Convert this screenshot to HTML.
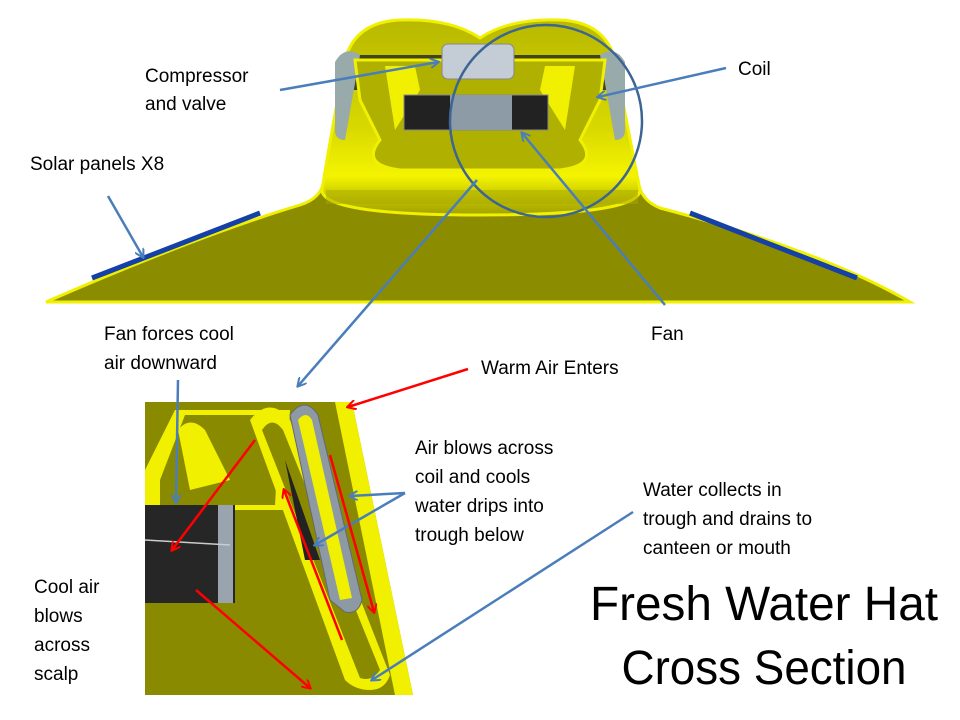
<!DOCTYPE html>
<html><head><style>
html,body{margin:0;padding:0;background:#fff;}
svg{display:block}
text{font-family:"Liberation Sans",sans-serif;fill:#000}
</style></head><body>
<svg width="960" height="720" viewBox="0 0 960 720" xmlns="http://www.w3.org/2000/svg">
<defs>
<linearGradient id="dome" x1="0" y1="0" x2="0" y2="1">
<stop offset="0" stop-color="#b8b800"/><stop offset="0.55" stop-color="#d8d800"/><stop offset="0.8" stop-color="#f4f400"/><stop offset="1" stop-color="#a0a000"/>
</linearGradient>
<marker id="ab" markerWidth="10" markerHeight="10" refX="8" refY="5" orient="auto" markerUnits="userSpaceOnUse"><path d="M0,0 L9,5 L0,10" fill="none" stroke="#4a7ebb" stroke-width="2"/></marker>
<marker id="ar" markerWidth="10" markerHeight="10" refX="8" refY="5" orient="auto" markerUnits="userSpaceOnUse"><path d="M0,0 L9,5 L0,10" fill="none" stroke="#ff0000" stroke-width="2"/></marker>
</defs>
<!-- brim -->
<path d="M46,302 Q200,235 300,205 Q322,198 324,180 L638,180 Q640,200 660,208 Q820,250 910,302 Z" fill="#8c8c00" stroke="#f0f000" stroke-width="3"/>
<!-- dome -->
<path d="M322,190 Q330,140 345,60 Q355,22 400,20 Q450,18 480,38 Q510,18 560,20 Q605,22 615,60 Q630,140 640,190 Q640,215 480,215 Q322,215 322,190 Z" fill="url(#dome)" stroke="#f0f000" stroke-width="3"/>
<rect x="326" y="190" width="312" height="14" fill="#a8a800" opacity="0.5"/>
<path d="M340,55 L620,55 L618,90 L342,90 Z" fill="#222" opacity="0.8"/>
<path d="M335,62 Q345,45 360,55 L345,140 Q335,140 335,130 Z" fill="#9aa" />
<path d="M625,62 Q615,45 600,55 L615,140 Q625,140 625,130 Z" fill="#9aa"/>
<path d="M355,60 L605,60 L600,100 L580,140 Q600,165 560,170 L400,170 Q360,165 380,140 L360,100 Z" fill="#b0b000" stroke="#f0f000" stroke-width="3"/>
<path d="M385,66 L415,66 L420,90 L395,130 Z" fill="#f0f000"/>
<path d="M575,66 L545,66 L540,90 L565,130 Z" fill="#f0f000"/>
<rect x="404" y="95" width="144" height="35" fill="#222" stroke="#888"/>
<rect x="450" y="95" width="62" height="35" fill="#8d9ba6"/>
<rect x="442" y="44" width="72" height="35" rx="6" fill="#c4ccd6" stroke="#888"/>
<path d="M92,278 L260,213" stroke="#1440a8" stroke-width="5"/>
<path d="M690,213 L857,278" stroke="#1440a8" stroke-width="5"/>
<circle cx="546" cy="121" r="96" fill="none" stroke="#3d6593" stroke-width="2.5"/>
<!-- inset -->
<g>
<path d="M145,402 L352,402 L413,695 L145,695 Z" fill="#8a8a00"/>
<path d="M335,402 L352,402 L413,695 L395,695 Z" fill="#f0f000"/>
<path d="M145,470 L175,410 L290,410 L285,510 L145,510 Z" fill="#f0f000"/>
<path d="M160,480 L185,415 L280,415 L275,505 L160,505 Z" fill="#8a8a00"/>
<path d="M178,430 Q190,415 205,430 L230,480 L190,490 Z" fill="#f0f000"/>
<rect x="145" y="505" width="90" height="98" fill="#262626"/>
<rect x="218" y="505" width="15" height="98" fill="#9aa4ae"/>
<path d="M145,540 L230,545" stroke="#ccc" stroke-width="1.5"/>
<path d="M250,420 Q270,395 290,420 L390,675 Q385,690 370,690 Q355,690 345,680 Z" fill="#f0f000"/>
<path d="M262,430 Q272,415 283,430 L380,670 Q372,682 360,678 Z" fill="#8a8a00"/>
<path d="M290,415 Q305,395 318,415 L362,600 Q358,615 345,612 L330,600 Z" fill="#8d9aa4" stroke="#667"/>
<path d="M298,420 Q306,410 312,420 L352,598 L340,600 Z" fill="#f0f000"/>
<path d="M285,460 L305,560 L320,560 Z" fill="#222"/>
</g>
<g stroke="#4a7ebb" stroke-width="2.5" fill="none">
<line x1="280" y1="90" x2="438" y2="62" marker-end="url(#ab)"/>
<line x1="726" y1="68" x2="598" y2="97" marker-end="url(#ab)"/>
<line x1="108" y1="196" x2="143" y2="257" marker-end="url(#ab)"/>
<line x1="665" y1="305" x2="522" y2="133" marker-end="url(#ab)"/>
<line x1="477" y1="180" x2="298" y2="386" marker-end="url(#ab)"/>
<line x1="178" y1="380" x2="176" y2="502" marker-end="url(#ab)"/>
<line x1="405" y1="493" x2="350" y2="496" marker-end="url(#ab)"/>
<line x1="405" y1="493" x2="315" y2="545" marker-end="url(#ab)"/>
<line x1="633" y1="512" x2="372" y2="680" marker-end="url(#ab)"/>
</g>
<g stroke="#ff0000" stroke-width="2.5" fill="none">
<line x1="468" y1="369" x2="348" y2="407" marker-end="url(#ar)"/>
<line x1="255" y1="440" x2="172" y2="550" marker-end="url(#ar)"/>
<line x1="196" y1="590" x2="310" y2="688" marker-end="url(#ar)"/>
<line x1="342" y1="640" x2="284" y2="490" marker-end="url(#ar)"/>
<line x1="330" y1="455" x2="374" y2="612" marker-end="url(#ar)"/>
</g>
<g font-size="19">
<text x="145" y="82">Compressor</text>
<text x="145" y="110">and valve</text>
<text x="738" y="75">Coil</text>
<text x="30" y="170">Solar panels X8</text>
<text x="651" y="340">Fan</text>
<text x="104" y="340">Fan forces cool</text>
<text x="104" y="369">air downward</text>
<text x="481" y="374">Warm Air Enters</text>
<text x="415" y="454">Air blows across</text>
<text x="415" y="483">coil and cools</text>
<text x="415" y="512">water drips into</text>
<text x="415" y="541">trough below</text>
<text x="643" y="496">Water collects in</text>
<text x="643" y="525">trough and drains to</text>
<text x="643" y="554">canteen or mouth</text>
<text x="34" y="593">Cool air</text>
<text x="34" y="622">blows</text>
<text x="34" y="651">across</text>
<text x="34" y="680">scalp</text>
</g>
<text x="764" y="620" font-size="48" text-anchor="middle" textLength="348" lengthAdjust="spacingAndGlyphs">Fresh Water Hat</text>
<text x="764" y="684" font-size="48" text-anchor="middle" textLength="285" lengthAdjust="spacingAndGlyphs">Cross Section</text>
</svg>
</body></html>
